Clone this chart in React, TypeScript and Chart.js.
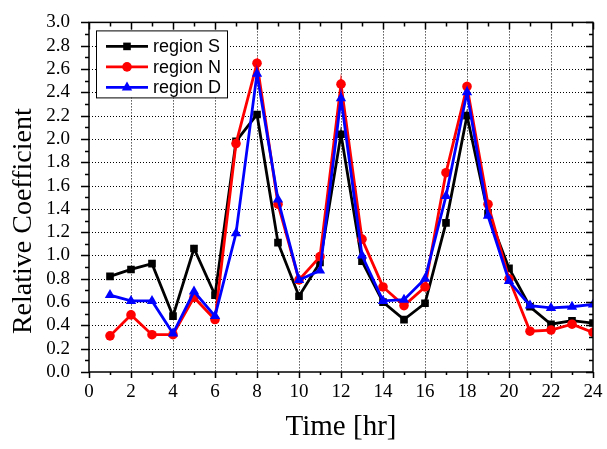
import React, { useEffect, useRef } from "react";
import { Chart, registerables } from "chart.js";

Chart.register(...registerables);

const hours = [1, 2, 3, 4, 5, 6, 7, 8, 9, 10, 11, 12, 13, 14, 15, 16, 17, 18, 19, 20, 21, 22, 23, 24];
const regionS = [0.82, 0.88, 0.93, 0.48, 1.06, 0.66, 1.98, 2.21, 1.11, 0.65, 0.94, 2.04, 0.95, 0.6, 0.45, 0.59, 1.28, 2.2, 1.36, 0.89, 0.56, 0.41, 0.44, 0.42];
const regionN = [0.31, 0.49, 0.32, 0.32, 0.64, 0.45, 1.96, 2.65, 1.44, 0.79, 0.99, 2.47, 1.14, 0.73, 0.57, 0.73, 1.71, 2.45, 1.44, 0.8, 0.35, 0.36, 0.41, 0.34];
const regionD = [0.66, 0.61, 0.61, 0.33, 0.69, 0.48, 1.19, 2.56, 1.48, 0.79, 0.87, 2.35, 1.0, 0.61, 0.62, 0.8, 1.51, 2.4, 1.34, 0.78, 0.57, 0.55, 0.56, 0.58];
const xTickValues = [0, 2, 4, 6, 8, 10, 12, 14, 16, 18, 20, 22, 24];
const yTickValues = [0, 0.2, 0.4, 0.6, 0.8, 1.0, 1.2, 1.4, 1.6, 1.8, 2.0, 2.2, 2.4, 2.6, 2.8, 3.0];
const xTitle = "Time [hr]";
const yTitle = "Relative Coefficient";

const series = [
  { name: "region S", values: regionS, color: "#000000", shape: "rect" },
  { name: "region N", values: regionN, color: "#ff0000", shape: "circle" },
  { name: "region D", values: regionD, color: "#0000ff", shape: "triangle" },
];

const serif = '"Liberation Serif", "Times New Roman", serif';

function drawMarker(ctx: CanvasRenderingContext2D, shape: string, x: number, y: number) {
  ctx.beginPath();
  if (shape === "rect") {
    ctx.rect(x - 3.8, y - 3.8, 7.6, 7.6);
  } else if (shape === "circle") {
    ctx.arc(x, y, 4.8, 0, Math.PI * 2);
  } else {
    const r = 6;
    ctx.moveTo(x, y - r);
    ctx.lineTo(x + r * Math.sin(Math.PI / 3), y + r / 2);
    ctx.lineTo(x - r * Math.sin(Math.PI / 3), y + r / 2);
    ctx.closePath();
  }
  ctx.fill();
}

const decorPlugin = {
  id: "decor",
  beforeDatasetsDraw(chart: any) {
    const { ctx, chartArea: a, scales } = chart;
    const x = scales.x;
    const y = scales.y;
    ctx.save();
    ctx.strokeStyle = "#000";
    ctx.lineWidth = 1;
    ctx.setLineDash([1, 2]);
    ctx.beginPath();
    for (const v of xTickValues.slice(1, -1)) {
      const px = Math.round(x.getPixelForValue(v)) + 0.5;
      ctx.moveTo(px, a.top);
      ctx.lineTo(px, a.bottom);
    }
    for (const v of yTickValues.slice(1, -1)) {
      const py = Math.round(y.getPixelForValue(v)) + 0.5;
      ctx.moveTo(a.left, py);
      ctx.lineTo(a.right, py);
    }
    ctx.stroke();
    ctx.restore();

    // y axis title
    ctx.save();
    ctx.translate(23.5, (a.top + a.bottom) / 2 + 24);
    ctx.rotate(-Math.PI / 2);
    ctx.font = "28px " + serif;
    ctx.fillStyle = "#000";
    ctx.textAlign = "center";
    ctx.textBaseline = "middle";
    ctx.fillText(yTitle, 0, 0);
    ctx.restore();
  },
  afterDatasetsDraw(chart: any) {
    const { ctx, chartArea: a, scales } = chart;
    const x = scales.x;
    const y = scales.y;
    ctx.save();
    ctx.setLineDash([]);
    ctx.strokeStyle = "#000";
    ctx.lineWidth = 1.5;
    ctx.strokeRect(a.left, a.top, a.right - a.left, a.bottom - a.top);
    ctx.beginPath();
    for (let i = 0; i < xTickValues.length; i++) {
      const v = xTickValues[i];
      const px = Math.round(x.getPixelForValue(v)) + 0.5;
      ctx.moveTo(px, a.bottom);
      ctx.lineTo(px, a.bottom + 6);
      ctx.moveTo(px, a.top);
      ctx.lineTo(px, a.top + 7);
      if (i < xTickValues.length - 1) {
        const m = (v + xTickValues[i + 1]) / 2;
        const pm = Math.round(x.getPixelForValue(m)) + 0.5;
        ctx.moveTo(pm, a.bottom);
        ctx.lineTo(pm, a.bottom + 3);
        ctx.moveTo(pm, a.top);
        ctx.lineTo(pm, a.top + 4);
      }
    }
    for (let i = 0; i < yTickValues.length; i++) {
      const v = yTickValues[i];
      const py = Math.round(y.getPixelForValue(v)) + 0.5;
      ctx.moveTo(a.left, py);
      ctx.lineTo(a.left - 8, py);
      ctx.moveTo(a.right, py);
      ctx.lineTo(a.right - 7, py);
      if (i < yTickValues.length - 1) {
        const m = (v + yTickValues[i + 1]) / 2;
        const pm = Math.round(y.getPixelForValue(m)) + 0.5;
        ctx.moveTo(a.left, pm);
        ctx.lineTo(a.left - 4, pm);
        ctx.moveTo(a.right, pm);
        ctx.lineTo(a.right - 4, pm);
      }
    }
    ctx.stroke();

    // legend
    const bx = a.left + 7;
    const by = a.top + 8;
    const bw = 131;
    const bh = 67;
    ctx.fillStyle = "#fff";
    ctx.fillRect(bx, by, bw, bh);
    ctx.lineWidth = 1;
    ctx.strokeRect(bx + 0.5, by + 0.5, bw, bh);
    ctx.font = '18px "Liberation Sans", Arial, sans-serif';
    ctx.textBaseline = "middle";
    ctx.textAlign = "left";
    series.forEach((s, i) => {
      const ry = by + 16 + i * 20.5;
      ctx.strokeStyle = s.color;
      ctx.fillStyle = s.color;
      ctx.lineWidth = 2.8;
      ctx.beginPath();
      ctx.moveTo(bx + 10, ry);
      ctx.lineTo(bx + 52, ry);
      ctx.stroke();
      drawMarker(ctx, s.shape, bx + 31, ry);
      ctx.fillStyle = "#000";
      ctx.fillText(s.name, bx + 57, ry + 1);
    });
    ctx.restore();
  },
};

export default function App() {
  const ref = useRef<HTMLCanvasElement>(null);
  useEffect(() => {
    if (!ref.current) return;
    const orders = [2, 1, 0];
    const radii = [5.4, 4.8, 6];
    const chart = new Chart(ref.current, {
      type: "line",
      data: {
        datasets: series.map((s, i) => ({
          label: s.name,
          data: hours.map((h, j) => ({ x: h, y: s.values[j] })),
          borderColor: s.color,
          backgroundColor: s.color,
          borderWidth: 2.8,
          pointStyle: s.shape,
          pointRadius: radii[i],
          pointBorderWidth: 0,
          tension: 0,
          fill: false,
          order: orders[i],
        })),
      },
      options: {
        responsive: false,
        animation: false,
        devicePixelRatio: 1,
        layout: { padding: { top: 15, right: 14, left: 0, bottom: 0 } },
        plugins: {
          legend: { display: false },
          tooltip: { enabled: false },
        },
        scales: {
          x: {
            type: "linear",
            min: 0,
            max: 24,
            grid: { display: false },
            border: { display: false },
            ticks: {
              stepSize: 2,
              autoSkip: false,
              maxRotation: 0,
              padding: 1,
              color: "#000",
              font: { family: serif, size: 19 },
            },
            title: {
              display: true,
              text: xTitle,
              color: "#000",
              font: { family: serif, size: 29 },
              padding: { top: 0, bottom: 4 },
            },
            afterFit: (s: any) => {
              s.height = 77;
            },
          },
          y: {
            min: 0,
            max: 3,
            grid: { display: false },
            border: { display: false },
            ticks: {
              stepSize: 0.2,
              autoSkip: false,
              padding: 11,
              color: "#000",
              font: { family: serif, size: 19 },
              callback: (v: any) => Number(v).toFixed(1),
            },
            title: { display: false },
            afterFit: (s: any) => {
              s.width = 89;
            },
          },
        },
      },
      plugins: [decorPlugin],
    } as any);
    return () => chart.destroy();
  }, []);
  return (
    <div style={{ position: "fixed", left: 0, top: 0, width: 607, height: 449, background: "#fff" }}>
      <canvas ref={ref} width={607} height={449} style={{ width: 607, height: 449 }} />
    </div>
  );
}
